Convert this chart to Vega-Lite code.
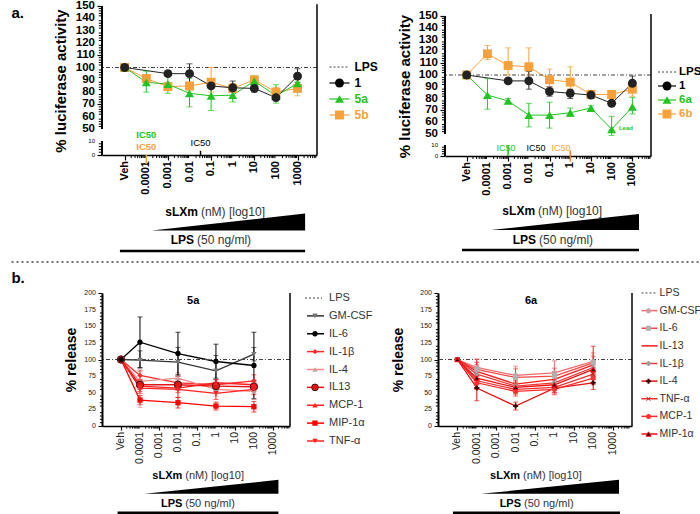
{
"$schema": "https://vega.github.io/schema/vega-lite/v6.json",
"padding": {"left": 10, "top": 0, "right": 0, "bottom": 0},
"config": {"font": "Liberation Sans", "view": {"stroke": null}, "background": "white",
  "axis": {"grid": false, "labelOverlap": false, "domainColor": "#000", "tickColor": "#000", "labelColor": "#000", "titleColor": "#000"}},
"resolve": {"scale": {"color": "independent", "fill": "independent", "shape": "independent", "stroke": "independent", "size": "independent"}},
"datasets": {
"xl": [{"t":-5,"l":"Veh"},{"t":-4,"l":"0.0001"},{"t":-3,"l":"0.001"},{"t":-2,"l":"0.01"},{"t":-1,"l":"0.1"},{"t":0,"l":"1"},{"t":1,"l":"10"},{"t":2,"l":"100"},{"t":3,"l":"1000"}],
"ylAu": [{"v":50},{"v":60},{"v":70},{"v":80},{"v":90},{"v":100},{"v":110},{"v":120},{"v":130},{"v":140},{"v":150}],
"ylAl": [{"v":0},{"v":10}],
"ylB": [{"v":0},{"v":25},{"v":50},{"v":75},{"v":100},{"v":125},{"v":150},{"v":175},{"v":200}],
"mx": [{"t":-4.69897},{"t":-4.52288},{"t":-4.39794},{"t":-4.30103},{"t":-4.22185},{"t":-4.1549},{"t":-4.09691},{"t":-4.04576},{"t":-3.69897},{"t":-3.52288},{"t":-3.39794},{"t":-3.30103},{"t":-3.22185},{"t":-3.1549},{"t":-3.09691},{"t":-3.04576},{"t":-2.69897},{"t":-2.52288},{"t":-2.39794},{"t":-2.30103},{"t":-2.22185},{"t":-2.1549},{"t":-2.09691},{"t":-2.04576},{"t":-1.69897},{"t":-1.52288},{"t":-1.39794},{"t":-1.30103},{"t":-1.22185},{"t":-1.1549},{"t":-1.09691},{"t":-1.04576},{"t":-0.69897},{"t":-0.52288},{"t":-0.39794},{"t":-0.30103},{"t":-0.22185},{"t":-0.1549},{"t":-0.09691},{"t":-0.04576},{"t":0.30103},{"t":0.47712},{"t":0.60206},{"t":0.69897},{"t":0.77815},{"t":0.8451},{"t":0.90309},{"t":0.95424},{"t":1.30103},{"t":1.47712},{"t":1.60206},{"t":1.69897},{"t":1.77815},{"t":1.8451},{"t":1.90309},{"t":1.95424},{"t":2.30103},{"t":2.47712},{"t":2.60206},{"t":2.69897},{"t":2.77815},{"t":2.8451},{"t":2.90309},{"t":2.95424},{"t":3.30103},{"t":3.47712},{"t":3.60206},{"t":3.69897},{"t":3.77815},{"t":3.8451}],
"myA": [{"v":2},{"v":4},{"v":6},{"v":8},{"v":52},{"v":54},{"v":56},{"v":58},{"v":62},{"v":64},{"v":66},{"v":68},{"v":72},{"v":74},{"v":76},{"v":78},{"v":82},{"v":84},{"v":86},{"v":88},{"v":92},{"v":94},{"v":96},{"v":98},{"v":102},{"v":104},{"v":106},{"v":108},{"v":112},{"v":114},{"v":116},{"v":118},{"v":122},{"v":124},{"v":126},{"v":128},{"v":132},{"v":134},{"v":136},{"v":138},{"v":142},{"v":144},{"v":146},{"v":148}],
"myB": [{"v":5},{"v":10},{"v":15},{"v":20},{"v":30},{"v":35},{"v":40},{"v":45},{"v":55},{"v":60},{"v":65},{"v":70},{"v":80},{"v":85},{"v":90},{"v":95},{"v":105},{"v":110},{"v":115},{"v":120},{"v":130},{"v":135},{"v":140},{"v":145},{"v":155},{"v":160},{"v":165},{"v":170},{"v":180},{"v":185},{"v":190},{"v":195}],
"aL": [
{"series":"5b","x":-5,"y":100,"lo":100,"hi":100},{"series":"5b","x":-4,"y":91,"lo":88,"hi":94},{"series":"5b","x":-3,"y":84.5,"lo":82,"hi":88},{"series":"5b","x":-2,"y":85,"lo":82,"hi":88},{"series":"5b","x":-1,"y":88,"lo":80,"hi":100},{"series":"5b","x":0,"y":83,"lo":81,"hi":87},{"series":"5b","x":1,"y":90,"lo":88,"hi":93},{"series":"5b","x":2,"y":80,"lo":76,"hi":84},{"series":"5b","x":3,"y":83,"lo":77,"hi":90},
{"series":"5a","x":-5,"y":100,"lo":100,"hi":100},{"series":"5a","x":-4,"y":88,"lo":80,"hi":97},{"series":"5a","x":-3,"y":86.5,"lo":79,"hi":93},{"series":"5a","x":-2,"y":79,"lo":68,"hi":91},{"series":"5a","x":-1,"y":77,"lo":65,"hi":90},{"series":"5a","x":0,"y":77.5,"lo":72,"hi":83},{"series":"5a","x":1,"y":89,"lo":85,"hi":93},{"series":"5a","x":2,"y":77,"lo":71,"hi":86},{"series":"5a","x":3,"y":87,"lo":84,"hi":93},
{"series":"1","x":-5,"y":100,"lo":100,"hi":100},{"series":"1","x":-3,"y":95,"lo":93,"hi":97},{"series":"1","x":-2,"y":95,"lo":86,"hi":103},{"series":"1","x":-1,"y":85,"lo":83,"hi":89},{"series":"1","x":0,"y":83.5,"lo":80,"hi":89},{"series":"1","x":1,"y":83,"lo":80,"hi":85},{"series":"1","x":2,"y":75.5,"lo":73,"hi":79},{"series":"1","x":3,"y":93,"lo":88,"hi":99}
],
"aR": [
{"series":"6b","x":-5,"y":100,"lo":100,"hi":100},{"series":"6b","x":-4,"y":118,"lo":113,"hi":125},{"series":"6b","x":-3,"y":108,"lo":100,"hi":123},{"series":"6b","x":-2,"y":107,"lo":100,"hi":123},{"series":"6b","x":-1,"y":96,"lo":90,"hi":105},{"series":"6b","x":0,"y":94,"lo":88,"hi":107},{"series":"6b","x":1,"y":83.5,"lo":80,"hi":87},{"series":"6b","x":2,"y":83.5,"lo":80,"hi":87},{"series":"6b","x":3,"y":88,"lo":82,"hi":95},
{"series":"6a","x":-5,"y":100,"lo":100,"hi":100},{"series":"6a","x":-4,"y":83,"lo":71,"hi":97},{"series":"6a","x":-3,"y":78,"lo":76,"hi":80},{"series":"6a","x":-2,"y":66,"lo":56,"hi":76},{"series":"6a","x":-1,"y":66,"lo":55,"hi":77},{"series":"6a","x":0,"y":68,"lo":65,"hi":72},{"series":"6a","x":1,"y":72,"lo":70,"hi":74},{"series":"6a","x":2,"y":54,"lo":45,"hi":65},{"series":"6a","x":3,"y":73,"lo":67,"hi":81},
{"series":"1","x":-5,"y":100,"lo":100,"hi":100},{"series":"1","x":-3,"y":95,"lo":93,"hi":97},{"series":"1","x":-2,"y":95,"lo":88,"hi":103},{"series":"1","x":-1,"y":86,"lo":82,"hi":90},{"series":"1","x":0,"y":84.5,"lo":80,"hi":88},{"series":"1","x":1,"y":83,"lo":81,"hi":85},{"series":"1","x":2,"y":76,"lo":74,"hi":78},{"series":"1","x":3,"y":93,"lo":88,"hi":99}
],
"bL": [
{"series":"IL-1β","x":-5,"y":100,"lo":99,"hi":101},{"series":"IL-1β","x":-4,"y":76,"lo":68,"hi":84},{"series":"IL-1β","x":-2,"y":65,"lo":55,"hi":75},{"series":"IL-1β","x":0,"y":62,"lo":55,"hi":70},{"series":"IL-1β","x":2,"y":68,"lo":60,"hi":77},
{"series":"IL-4","x":-5,"y":100,"lo":99,"hi":101},{"series":"IL-4","x":-4,"y":67,"lo":28,"hi":82},{"series":"IL-4","x":-2,"y":72,"lo":64,"hi":80},{"series":"IL-4","x":0,"y":55,"lo":45,"hi":68},{"series":"IL-4","x":2,"y":52,"lo":40,"hi":64},
{"series":"IL13","x":-5,"y":100,"lo":99,"hi":101},{"series":"IL13","x":-4,"y":62,"lo":55,"hi":70},{"series":"IL13","x":-2,"y":62,"lo":55,"hi":70},{"series":"IL13","x":0,"y":60,"lo":54,"hi":66},{"series":"IL13","x":2,"y":59,"lo":52,"hi":66},
{"series":"MCP-1","x":-5,"y":100,"lo":99,"hi":101},{"series":"MCP-1","x":-4,"y":60,"lo":52,"hi":68},{"series":"MCP-1","x":-2,"y":57,"lo":50,"hi":64},{"series":"MCP-1","x":0,"y":65,"lo":60,"hi":70},{"series":"MCP-1","x":2,"y":62,"lo":55,"hi":69},
{"series":"MIP-1α","x":-5,"y":100,"lo":99,"hi":101},{"series":"MIP-1α","x":-4,"y":39,"lo":32,"hi":46},{"series":"MIP-1α","x":-2,"y":35,"lo":27,"hi":43},{"series":"MIP-1α","x":0,"y":30,"lo":24,"hi":36},{"series":"MIP-1α","x":2,"y":29,"lo":21,"hi":37},
{"series":"TNF-α","x":-5,"y":100,"lo":99,"hi":101},{"series":"TNF-α","x":-4,"y":57,"lo":49,"hi":65},{"series":"TNF-α","x":-2,"y":55,"lo":43,"hi":64},{"series":"TNF-α","x":0,"y":49,"lo":40,"hi":58},{"series":"TNF-α","x":2,"y":55,"lo":47,"hi":63},
{"series":"GM-CSF","x":-5,"y":100,"lo":99,"hi":101},{"series":"GM-CSF","x":-4,"y":99,"lo":87,"hi":113},{"series":"GM-CSF","x":-2,"y":96,"lo":75,"hi":118},{"series":"GM-CSF","x":0,"y":83,"lo":64,"hi":106},{"series":"GM-CSF","x":2,"y":108,"lo":98,"hi":118},
{"series":"IL-6","x":-5,"y":100,"lo":99,"hi":101},{"series":"IL-6","x":-4,"y":126,"lo":88,"hi":164},{"series":"IL-6","x":-2,"y":109,"lo":77,"hi":141},{"series":"IL-6","x":0,"y":97,"lo":72,"hi":123},{"series":"IL-6","x":2,"y":91,"lo":41,"hi":141}
],
"bR": [
{"series":"GM-CSF","x":-5,"y":100,"lo":98,"hi":102},{"series":"GM-CSF","x":-4,"y":88,"lo":75,"hi":101},{"series":"GM-CSF","x":-2,"y":76,"lo":62,"hi":90},{"series":"GM-CSF","x":0,"y":80,"lo":62,"hi":98},{"series":"GM-CSF","x":2,"y":97,"lo":85,"hi":110},
{"series":"IL-6","x":-5,"y":100,"lo":98,"hi":102},{"series":"IL-6","x":-4,"y":85,"lo":70,"hi":100},{"series":"IL-6","x":-2,"y":73,"lo":60,"hi":86},{"series":"IL-6","x":0,"y":75,"lo":63,"hi":87},{"series":"IL-6","x":2,"y":95,"lo":80,"hi":105},
{"series":"IL-13","x":-5,"y":100,"lo":98,"hi":102},{"series":"IL-13","x":-4,"y":82,"lo":68,"hi":96},{"series":"IL-13","x":-2,"y":63,"lo":50,"hi":76},{"series":"IL-13","x":0,"y":70,"lo":58,"hi":82},{"series":"IL-13","x":2,"y":92,"lo":75,"hi":120},
{"series":"IL-1β","x":-5,"y":100,"lo":98,"hi":102},{"series":"IL-1β","x":-4,"y":78,"lo":64,"hi":92},{"series":"IL-1β","x":-2,"y":60,"lo":52,"hi":68},{"series":"IL-1β","x":0,"y":65,"lo":55,"hi":75},{"series":"IL-1β","x":2,"y":88,"lo":78,"hi":98},
{"series":"IL-4","x":-5,"y":100,"lo":98,"hi":102},{"series":"IL-4","x":-4,"y":57,"lo":38,"hi":76},{"series":"IL-4","x":-2,"y":30,"lo":24,"hi":36},{"series":"IL-4","x":0,"y":57,"lo":50,"hi":64},{"series":"IL-4","x":2,"y":65,"lo":55,"hi":75},
{"series":"TNF-α","x":-5,"y":100,"lo":98,"hi":102},{"series":"TNF-α","x":-4,"y":68,"lo":58,"hi":78},{"series":"TNF-α","x":-2,"y":55,"lo":48,"hi":62},{"series":"TNF-α","x":0,"y":58,"lo":50,"hi":66},{"series":"TNF-α","x":2,"y":78,"lo":70,"hi":86},
{"series":"MCP-1","x":-5,"y":100,"lo":98,"hi":102},{"series":"MCP-1","x":-4,"y":65,"lo":55,"hi":75},{"series":"MCP-1","x":-2,"y":52,"lo":45,"hi":59},{"series":"MCP-1","x":0,"y":55,"lo":47,"hi":63},{"series":"MCP-1","x":2,"y":72,"lo":62,"hi":82},
{"series":"MIP-1α","x":-5,"y":100,"lo":98,"hi":102},{"series":"MIP-1α","x":-4,"y":72,"lo":62,"hi":82},{"series":"MIP-1α","x":-2,"y":58,"lo":50,"hi":66},{"series":"MIP-1α","x":0,"y":62,"lo":55,"hi":69},{"series":"MIP-1α","x":2,"y":85,"lo":78,"hi":92}
]
},
"spacing": 8,
"columns": 1,
"concat": [
{"spacing": 5, "resolve": {"scale": {"color": "independent", "fill": "independent", "shape": "independent", "stroke": "independent", "size": "independent"}}, "hconcat": [
 {"width": 215, "height": 149, "layer": [
  {"data": {"name": "aL"}, "mark": {"type": "line", "strokeWidth": 1},
   "encoding": {
    "x": {"field": "x", "type": "quantitative", "scale": {"domain": [-6.05, 3.9], "nice": false, "zero": false},
      "axis": {"values": [-5,-4,-3,-2,-1,0,1,2,3], "labels": false, "tickSize": 5, "tickWidth": 1.2, "domainWidth": 1.5, "title": null}},
    "y": {"field": "y", "type": "quantitative", "scale": {"domain": [0,10,50,150], "range": [149,135,123,0], "nice": false, "zero": false},
      "axis": {"values": [0,10,50,60,70,80,90,100,110,120,130,140,150], "labels": false, "tickSize": 5, "tickWidth": 1.2, "domain": false,
       "title": "% luciferase activity", "titleFontSize": 15, "titleFontWeight": "bold", "titlePadding": 28}},
    "color": {"field": "series", "type": "nominal", "scale": {"domain": ["1","5a","5b"], "range": ["#222222","#22c322","#f8a13a"]}, "legend": null}}},
  {"data": {"values": [{}]}, "mark": {"type": "rule", "color": "#444", "strokeWidth": 1, "strokeDash": [4,2,1,2]}, "encoding": {"y": {"datum": 100, "type": "quantitative"}}},
  {"data": {"name": "mx"}, "mark": {"type": "rule", "color": "#000", "strokeWidth": 1}, "encoding": {"x": {"field": "t", "type": "quantitative"}, "y": {"datum": 0}, "y2": {"datum": -2.2}}},
  {"data": {"name": "myA"}, "mark": {"type": "rule", "color": "#000", "strokeWidth": 1}, "encoding": {"y": {"field": "v", "type": "quantitative"}, "x": {"datum": -6.05}, "x2": {"datum": -6.2}}},
  {"data": {"name": "xl"}, "mark": {"type": "text", "angle": 270, "align": "right", "baseline": "middle", "fontSize": 11, "fontWeight": "bold", "color": "#000"}, "encoding": {"x": {"field": "t", "type": "quantitative"}, "y": {"datum": -4.3}, "text": {"field": "l"}}},
  {"data": {"name": "ylAu"}, "mark": {"type": "text", "align": "right", "baseline": "middle", "fontSize": 11.5, "fontWeight": "bold", "color": "#000", "dx": -7}, "encoding": {"x": {"datum": -6.05}, "y": {"field": "v", "type": "quantitative"}, "text": {"field": "v", "type": "quantitative"}}},
  {"data": {"name": "ylAl"}, "mark": {"type": "text", "align": "right", "baseline": "middle", "fontSize": 6, "color": "#000", "dx": -7}, "encoding": {"x": {"datum": -6.05}, "y": {"field": "v", "type": "quantitative"}, "text": {"field": "v", "type": "quantitative"}}},
  {"data": {"name": "aL"}, "mark": {"type": "errorbar", "ticks": {"size": 6}, "orient": "vertical"}, "encoding": {"x": {"field": "x", "type": "quantitative", "axis": {"title": null}}, "y": {"field": "lo", "type": "quantitative", "axis": {"title": "% luciferase activity"}}, "y2": {"field": "hi"}, "color": {"field": "series", "type": "nominal", "legend": null}}},
  {"data": {"name": "aL"}, "mark": {"type": "point", "filled": true, "size": 80, "opacity": 1},
   "encoding": {"x": {"field": "x", "type": "quantitative"}, "y": {"field": "y", "type": "quantitative"}, "color": {"field": "series", "type": "nominal", "legend": null},
    "shape": {"field": "series", "type": "nominal", "scale": {"domain": ["1","5a","5b"], "range": ["circle","triangle-up","square"]}, "legend": null}}},
  {"data": {"values": [{}]}, "mark": {"type": "rule", "color": "#000", "strokeWidth": 2}, "encoding": {"x": {"datum": -6.05}, "y": {"datum": 50}, "y2": {"datum": 150}}},
  {"data": {"values": [{}]}, "mark": {"type": "rule", "color": "#000", "strokeWidth": 2}, "encoding": {"x": {"datum": -6.05}, "y": {"datum": 0}, "y2": {"datum": 10}}},
  {"data": {"values": [{}]}, "mark": {"type": "rule", "color": "#000", "strokeWidth": 1.5}, "encoding": {"x": {"datum": 3.9}, "y": {"datum": 0}, "y2": {"datum": 151.5}}},
  {"data": {"values": [{}]}, "mark": {"type": "rule", "color": "#f8a13a", "strokeWidth": 1.5}, "encoding": {"x": {"datum": -4}, "y": {"datum": 0}, "y2": {"datum": -6.4}}},
  {"data": {"values": [{}]}, "mark": {"type": "rule", "color": "#000", "strokeWidth": 1.5}, "encoding": {"x": {"datum": -1.49}, "y": {"datum": 0}, "y2": {"datum": 3}}},
  {"data": {"values": [{}]}, "mark": {"type": "text", "text": "IC50", "color": "#22c322", "fontSize": 9.5, "fontWeight": "bold"}, "encoding": {"x": {"datum": -4}, "y": {"datum": 30}}},
  {"data": {"values": [{}]}, "mark": {"type": "text", "text": "IC50", "color": "#f8a13a", "fontSize": 9.5, "fontWeight": "bold"}, "encoding": {"x": {"datum": -4}, "y": {"datum": 5.7}}},
  {"data": {"values": [{}]}, "mark": {"type": "text", "text": "IC50", "color": "#000", "fontSize": 9.5}, "encoding": {"x": {"datum": -1.49}, "y": {"datum": 8.6}}},
  {"data": {"values": [{}]}, "mark": {"type": "text", "text": "sLXm", "color": "#000", "fontSize": 12, "fontWeight": "bold", "align": "right"}, "encoding": {"x": {"datum": -1.61}, "y": {"datum": -40.7}}},
  {"data": {"values": [{}]}, "mark": {"type": "text", "text": "(nM) [log10]", "color": "#333", "fontSize": 12, "align": "left", "dx": 3}, "encoding": {"x": {"datum": -1.61}, "y": {"datum": -40.7}}},
  {"data": {"values": [{"c": -3.74, "h": -53.9}, {"c": 3.35, "h": -41.8}]}, "mark": {"type": "area", "color": "#000"}, "encoding": {"x": {"field": "c", "type": "quantitative"}, "y": {"field": "h", "type": "quantitative"}, "y2": {"datum": -53.9}}},
  {"data": {"values": [{}]}, "mark": {"type": "text", "text": "LPS", "color": "#000", "fontSize": 12, "fontWeight": "bold", "align": "right"}, "encoding": {"x": {"datum": -1.79}, "y": {"datum": -60.7}}},
  {"data": {"values": [{}]}, "mark": {"type": "text", "text": "(50 ng/ml)", "color": "#333", "fontSize": 12, "align": "left", "dx": 3}, "encoding": {"x": {"datum": -1.79}, "y": {"datum": -60.7}}},
  {"data": {"values": [{}]}, "mark": {"type": "rule", "color": "#000", "strokeWidth": 2.5}, "encoding": {"x": {"datum": -5.22}, "x2": {"datum": 3.35}, "y": {"datum": -68.6}}},
  {"data": {"values": [{}]}, "mark": {"type": "text", "text": "a.", "color": "#000", "fontSize": 15, "fontWeight": "bold", "align": "left"}, "encoding": {"x": {"datum": -10.24}, "y": {"datum": 144.3}}}
 ]},
 {"width": 69, "height": 149, "data": {"values": [{"s":"LPS"},{"s":"1"},{"s":"5a"},{"s":"5b"}]}, "layer": [
  {"transform": [{"filter": "datum.s === 'LPS'"}], "mark": {"type": "rule", "strokeDash": [2,2], "color": "#444", "strokeWidth": 1},
   "encoding": {"x": {"datum": 0.94, "type": "quantitative", "scale": {"domain": [0,10]}, "axis": null}, "x2": {"datum": 3.84}, "y": {"field": "s", "type": "nominal", "scale": {"type": "point", "padding": 0, "domain": ["LPS","1","5a","5b"], "range": [61,109]}, "axis": null}}},
  {"transform": [{"filter": "datum.s !== 'LPS'"}], "mark": {"type": "rule", "strokeWidth": 1.2},
   "encoding": {"x": {"datum": 0.94, "axis": null}, "x2": {"datum": 3.84}, "y": {"field": "s", "type": "nominal", "axis": null}, "color": {"field": "s", "type": "nominal", "scale": {"domain": ["LPS","1","5a","5b"], "range": ["#000000","#000000","#22c322","#f8a13a"]}, "legend": null}}},
  {"transform": [{"filter": "datum.s !== 'LPS'"}], "mark": {"type": "point", "filled": true, "size": 80, "opacity": 1},
   "encoding": {"x": {"datum": 2.39, "axis": null}, "y": {"field": "s", "type": "nominal", "axis": null}, "color": {"field": "s", "type": "nominal", "legend": null}, "shape": {"field": "s", "type": "nominal", "scale": {"domain": ["1","5a","5b"], "range": ["circle","triangle-up","square"]}, "legend": null}}},
  {"mark": {"type": "text", "align": "left", "baseline": "middle", "fontSize": 12, "fontWeight": "bold"},
   "encoding": {"x": {"datum": 4.57, "axis": null}, "y": {"field": "s", "type": "nominal", "axis": null}, "text": {"field": "s"}, "color": {"field": "s", "type": "nominal", "legend": null}}}
 ]},
 {"width": 206, "height": 150, "layer": [
  {"data": {"name": "aR"}, "mark": {"type": "line", "strokeWidth": 1},
   "encoding": {
    "x": {"field": "x", "type": "quantitative", "scale": {"domain": [-6.05, 3.9], "nice": false, "zero": false},
      "axis": {"values": [-5,-4,-3,-2,-1,0,1,2,3], "labels": false, "tickSize": 5, "tickWidth": 1.2, "domainWidth": 1.5, "title": null}},
    "y": {"field": "y", "type": "quantitative", "scale": {"domain": [0,10,50,150], "range": [150,139,128,10], "nice": false, "zero": false},
      "axis": {"values": [0,10,50,60,70,80,90,100,110,120,130,140,150], "labels": false, "tickSize": 5, "tickWidth": 1.2, "domain": false,
       "title": "% luciferase activity", "titleFontSize": 15, "titleFontWeight": "bold", "titlePadding": 27}},
    "color": {"field": "series", "type": "nominal", "scale": {"domain": ["1","6a","6b"], "range": ["#222222","#22c322","#f8a13a"]}, "legend": null}}},
  {"data": {"values": [{}]}, "mark": {"type": "rule", "color": "#444", "strokeWidth": 1, "strokeDash": [4,2,1,2]}, "encoding": {"y": {"datum": 100, "type": "quantitative"}}},
  {"data": {"name": "mx"}, "mark": {"type": "rule", "color": "#000", "strokeWidth": 1}, "encoding": {"x": {"field": "t", "type": "quantitative"}, "y": {"datum": 0}, "y2": {"datum": -2.7}}},
  {"data": {"name": "myA"}, "mark": {"type": "rule", "color": "#000", "strokeWidth": 1}, "encoding": {"y": {"field": "v", "type": "quantitative"}, "x": {"datum": -6.05}, "x2": {"datum": -6.2}}},
  {"data": {"name": "xl"}, "mark": {"type": "text", "angle": 270, "align": "right", "baseline": "middle", "fontSize": 11, "fontWeight": "bold", "color": "#000"}, "encoding": {"x": {"field": "t", "type": "quantitative"}, "y": {"datum": -5.5}, "text": {"field": "l"}}},
  {"data": {"name": "ylAu"}, "mark": {"type": "text", "align": "right", "baseline": "middle", "fontSize": 11.5, "fontWeight": "bold", "color": "#000", "dx": -7}, "encoding": {"x": {"datum": -6.05}, "y": {"field": "v", "type": "quantitative"}, "text": {"field": "v", "type": "quantitative"}}},
  {"data": {"name": "ylAl"}, "mark": {"type": "text", "align": "right", "baseline": "middle", "fontSize": 6, "color": "#000", "dx": -7}, "encoding": {"x": {"datum": -6.05}, "y": {"field": "v", "type": "quantitative"}, "text": {"field": "v", "type": "quantitative"}}},
  {"data": {"name": "aR"}, "mark": {"type": "errorbar", "ticks": {"size": 6}, "orient": "vertical"}, "encoding": {"x": {"field": "x", "type": "quantitative", "axis": {"title": null}}, "y": {"field": "lo", "type": "quantitative", "axis": {"title": "% luciferase activity"}}, "y2": {"field": "hi"}, "color": {"field": "series", "type": "nominal", "legend": null}}},
  {"data": {"name": "aR"}, "mark": {"type": "point", "filled": true, "size": 80, "opacity": 1},
   "encoding": {"x": {"field": "x", "type": "quantitative"}, "y": {"field": "y", "type": "quantitative"}, "color": {"field": "series", "type": "nominal", "legend": null},
    "shape": {"field": "series", "type": "nominal", "scale": {"domain": ["1","6a","6b"], "range": ["circle","triangle-up","square"]}, "legend": null}}},
  {"data": {"values": [{}]}, "mark": {"type": "rule", "color": "#000", "strokeWidth": 2}, "encoding": {"x": {"datum": -6.05}, "y": {"datum": 50}, "y2": {"datum": 150}}},
  {"data": {"values": [{}]}, "mark": {"type": "rule", "color": "#000", "strokeWidth": 2}, "encoding": {"x": {"datum": -6.05}, "y": {"datum": 0}, "y2": {"datum": 10}}},
  {"data": {"values": [{}]}, "mark": {"type": "rule", "color": "#000", "strokeWidth": 1.5}, "encoding": {"x": {"datum": 3.9}, "y": {"datum": 0}, "y2": {"datum": 151.7}}},
  {"data": {"values": [{}]}, "mark": {"type": "rule", "color": "#22c322", "strokeWidth": 1.5}, "encoding": {"x": {"datum": -3}, "y": {"datum": 0}, "y2": {"datum": 10}}},
  {"data": {"values": [{}]}, "mark": {"type": "rule", "color": "#f07a3a", "strokeWidth": 1.5}, "encoding": {"x": {"datum": 0}, "y": {"datum": -5}, "y2": {"datum": 5}}},
  {"data": {"values": [{}]}, "mark": {"type": "text", "text": "IC50", "color": "#22c322", "fontSize": 9}, "encoding": {"x": {"datum": -3.1}, "y": {"datum": 7.3}}},
  {"data": {"values": [{}]}, "mark": {"type": "text", "text": "IC50", "color": "#000", "fontSize": 9}, "encoding": {"x": {"datum": -1.65}, "y": {"datum": 7.3}}},
  {"data": {"values": [{}]}, "mark": {"type": "text", "text": "IC50", "color": "#f8a13a", "fontSize": 9}, "encoding": {"x": {"datum": -0.45}, "y": {"datum": 7.3}}},
  {"data": {"values": [{}]}, "mark": {"type": "text", "text": "Lead", "color": "#22c322", "fontSize": 6, "fontWeight": "bold"}, "encoding": {"x": {"datum": 2.69}, "y": {"datum": 55}}},
  {"data": {"values": [{}]}, "mark": {"type": "text", "text": "sLXm", "color": "#000", "fontSize": 12, "fontWeight": "bold", "align": "right"}, "encoding": {"x": {"datum": -1.7}, "y": {"datum": -50}}},
  {"data": {"values": [{}]}, "mark": {"type": "text", "text": "(nM) [log10]", "color": "#333", "fontSize": 12, "align": "left", "dx": 3}, "encoding": {"x": {"datum": -1.7}, "y": {"datum": -50}}},
  {"data": {"values": [{"c": -3.83, "h": -67.3}, {"c": 3.32, "h": -52.7}]}, "mark": {"type": "area", "color": "#000"}, "encoding": {"x": {"field": "c", "type": "quantitative"}, "y": {"field": "h", "type": "quantitative"}, "y2": {"datum": -67.3}}},
  {"data": {"values": [{}]}, "mark": {"type": "text", "text": "LPS", "color": "#000", "fontSize": 12, "fontWeight": "bold", "align": "right"}, "encoding": {"x": {"datum": -1.65}, "y": {"datum": -76.4}}},
  {"data": {"values": [{}]}, "mark": {"type": "text", "text": "(50 ng/ml)", "color": "#333", "fontSize": 12, "align": "left", "dx": 3}, "encoding": {"x": {"datum": -1.65}, "y": {"datum": -76.4}}},
  {"data": {"values": [{}]}, "mark": {"type": "rule", "color": "#000", "strokeWidth": 2.5}, "encoding": {"x": {"datum": -5.23}, "x2": {"datum": 3.32}, "y": {"datum": -85.5}}}
 ]},
 {"width": 50, "height": 150, "data": {"values": [{"s":"LPS"},{"s":"1"},{"s":"6a"},{"s":"6b"}]}, "layer": [
  {"transform": [{"filter": "datum.s === 'LPS'"}], "mark": {"type": "rule", "strokeDash": [2,2], "color": "#444", "strokeWidth": 1},
   "encoding": {"x": {"datum": 0, "type": "quantitative", "scale": {"domain": [0,10]}, "axis": null}, "x2": {"datum": 3.6}, "y": {"field": "s", "type": "nominal", "scale": {"type": "point", "padding": 0, "domain": ["LPS","1","6a","6b"], "range": [66,108]}, "axis": null}}},
  {"transform": [{"filter": "datum.s !== 'LPS'"}], "mark": {"type": "rule", "strokeWidth": 1.2},
   "encoding": {"x": {"datum": 0, "axis": null}, "x2": {"datum": 3.6}, "y": {"field": "s", "type": "nominal", "axis": null}, "color": {"field": "s", "type": "nominal", "scale": {"domain": ["LPS","1","6a","6b"], "range": ["#000000","#000000","#22c322","#f8a13a"]}, "legend": null}}},
  {"transform": [{"filter": "datum.s !== 'LPS'"}], "mark": {"type": "point", "filled": true, "size": 80, "opacity": 1},
   "encoding": {"x": {"datum": 1.8, "axis": null}, "y": {"field": "s", "type": "nominal", "axis": null}, "color": {"field": "s", "type": "nominal", "legend": null}, "shape": {"field": "s", "type": "nominal", "scale": {"domain": ["1","6a","6b"], "range": ["circle","triangle-up","square"]}, "legend": null}}},
  {"mark": {"type": "text", "align": "left", "baseline": "middle", "fontSize": 11.5, "fontWeight": "bold"},
   "encoding": {"x": {"datum": 4.2, "axis": null}, "y": {"field": "s", "type": "nominal", "axis": null}, "text": {"field": "s"}, "color": {"field": "s", "type": "nominal", "legend": null}}}
 ]}
]},
{"width": 600, "height": 1, "data": {"values": [{}]}, "mark": {"type": "rule", "strokeDash": [2,3], "color": "#444", "strokeWidth": 1.3}, "encoding": {"x": {"datum": -1.508, "type": "quantitative", "scale": {"domain": [0,10]}, "axis": null}, "x2": {"datum": 10}, "y": {"datum": 0, "type": "quantitative", "scale": {"domain": [0,1]}, "axis": null}}},
{"spacing": 5, "resolve": {"scale": {"color": "independent", "fill": "independent", "shape": "independent", "stroke": "independent", "size": "independent"}}, "hconcat": [
 {"width": 188, "height": 133, "layer": [
  {"data": {"name": "bL"}, "mark": {"type": "line", "strokeWidth": 1.3},
   "encoding": {
    "x": {"field": "x", "type": "quantitative", "scale": {"domain": [-6, 3.9], "nice": false, "zero": false},
      "axis": {"values": [-5,-4,-3,-2,-1,0,1,2,3], "labels": false, "tickSize": 4, "tickWidth": 1.2, "domainWidth": 1.5, "title": null}},
    "y": {"field": "y", "type": "quantitative", "scale": {"domain": [0, 200], "nice": false, "zero": false},
      "axis": {"values": [0,25,50,75,100,125,150,175,200], "labels": false, "tickSize": 4, "tickWidth": 1, "domainWidth": 2,
       "title": "% release", "titleFontSize": 14, "titleFontWeight": "bold", "titlePadding": 19}},
    "color": {"field": "series", "type": "nominal", "scale": {"domain": ["GM-CSF","IL-6","IL-1β","IL-4","IL13","MCP-1","MIP-1α","TNF-α"], "range": ["#333333","#000000","#ff2a2a","#f28a8a","#e01515","#ff1f1f","#ff0000","#ff2020"]}, "legend": null}}},
  {"data": {"values": [{}]}, "mark": {"type": "rule", "color": "#444", "strokeWidth": 1, "strokeDash": [4,2,1,2]}, "encoding": {"y": {"datum": 100, "type": "quantitative"}}},
  {"data": {"name": "mx"}, "mark": {"type": "rule", "color": "#000", "strokeWidth": 1}, "encoding": {"x": {"field": "t", "type": "quantitative"}, "y": {"datum": 0}, "y2": {"datum": -3.8}}},
  {"data": {"name": "myB"}, "mark": {"type": "rule", "color": "#000", "strokeWidth": 1}, "encoding": {"y": {"field": "v", "type": "quantitative"}, "x": {"datum": -6}, "x2": {"datum": -6.11}}},
  {"data": {"name": "xl"}, "mark": {"type": "text", "angle": 270, "align": "right", "baseline": "middle", "fontSize": 10.5, "color": "#222"}, "encoding": {"x": {"field": "t", "type": "quantitative"}, "y": {"datum": -9}, "text": {"field": "l"}}},
  {"data": {"name": "ylB"}, "mark": {"type": "text", "align": "right", "baseline": "middle", "fontSize": 7, "color": "#222", "dx": -6}, "encoding": {"x": {"datum": -6}, "y": {"field": "v", "type": "quantitative"}, "text": {"field": "v", "type": "quantitative"}}},
  {"data": {"name": "bL"}, "mark": {"type": "errorbar", "ticks": {"size": 5}, "orient": "vertical"}, "encoding": {"x": {"field": "x", "type": "quantitative", "axis": {"title": null}}, "y": {"field": "lo", "type": "quantitative", "axis": {"title": "% release"}}, "y2": {"field": "hi"}, "color": {"field": "series", "type": "nominal", "legend": null}}},
  {"data": {"name": "bL"}, "mark": {"type": "point", "filled": true, "opacity": 1, "strokeWidth": 1},
   "encoding": {"x": {"field": "x", "type": "quantitative"}, "y": {"field": "y", "type": "quantitative"},
    "fill": {"field": "series", "type": "nominal", "scale": {"domain": ["GM-CSF","IL-6","IL-1β","IL-4","IL13","MCP-1","MIP-1α","TNF-α"], "range": ["#777777","#000000","#ff2a2a","#c9a0a0","#e01515","#ff1f1f","#ff0000","#ff2020"]}, "legend": null},
    "shape": {"field": "series", "type": "nominal", "scale": {"domain": ["GM-CSF","IL-6","IL-1β","IL-4","IL13","MCP-1","MIP-1α","TNF-α"], "range": ["triangle-down","circle","diamond","triangle-up","circle","triangle-up","square","triangle-down"]}, "legend": null},
    "stroke": {"condition": {"test": "datum.series === 'IL13'", "value": "#401010"}, "value": "transparent"},
    "size": {"condition": {"test": "datum.series === 'IL13'", "value": 55}, "value": 28}}},
  {"data": {"values": [{}]}, "mark": {"type": "rule", "color": "#000", "strokeWidth": 1.5}, "encoding": {"x": {"datum": 3.9}, "y": {"datum": 0}, "y2": {"datum": 200}}},
  {"data": {"values": [{}]}, "mark": {"type": "text", "text": "5a", "color": "#000", "fontSize": 11, "fontWeight": "bold"}, "encoding": {"x": {"datum": -1.2}, "y": {"datum": 188}}},
  {"data": {"values": [{}]}, "mark": {"type": "text", "text": "sLXm", "color": "#000", "fontSize": 11, "fontWeight": "bold", "align": "right"}, "encoding": {"x": {"datum": -1.77}, "y": {"datum": -75.2}}},
  {"data": {"values": [{}]}, "mark": {"type": "text", "text": "(nM) [log10]", "color": "#333", "fontSize": 11, "align": "left", "dx": 3}, "encoding": {"x": {"datum": -1.77}, "y": {"datum": -75.2}}},
  {"data": {"values": [{"c": -3.76, "h": -102}, {"c": 3.29, "h": -81}]}, "mark": {"type": "area", "color": "#000"}, "encoding": {"x": {"field": "c", "type": "quantitative"}, "y": {"field": "h", "type": "quantitative"}, "y2": {"datum": -102}}},
  {"data": {"values": [{}]}, "mark": {"type": "text", "text": "LPS", "color": "#000", "fontSize": 11, "fontWeight": "bold", "align": "right"}, "encoding": {"x": {"datum": -1.77}, "y": {"datum": -117}}},
  {"data": {"values": [{}]}, "mark": {"type": "text", "text": "(50 ng/ml)", "color": "#333", "fontSize": 11, "align": "left", "dx": 3}, "encoding": {"x": {"datum": -1.77}, "y": {"datum": -117}}},
  {"data": {"values": [{}]}, "mark": {"type": "rule", "color": "#000", "strokeWidth": 3}, "encoding": {"x": {"datum": -5.18}, "x2": {"datum": 3.29}, "y": {"datum": -131}}},
  {"data": {"values": [{}]}, "mark": {"type": "text", "text": "b.", "color": "#000", "fontSize": 15, "fontWeight": "bold", "align": "left"}, "encoding": {"x": {"datum": -10.77}, "y": {"datum": 222}}}
 ]},
 {"width": 90, "height": 133, "data": {"values": [{"s":"LPS"},{"s":"GM-CSF"},{"s":"IL-6"},{"s":"IL-1β"},{"s":"IL-4"},{"s":"IL13"},{"s":"MCP-1"},{"s":"MIP-1α"},{"s":"TNF-α"}]}, "layer": [
  {"transform": [{"filter": "datum.s === 'LPS'"}], "mark": {"type": "rule", "strokeDash": [2,2], "color": "#444", "strokeWidth": 1},
   "encoding": {"x": {"datum": 1.0, "type": "quantitative", "scale": {"domain": [0,10]}, "axis": null}, "x2": {"datum": 2.89}, "y": {"field": "s", "type": "nominal", "scale": {"type": "point", "padding": 0, "domain": ["LPS","GM-CSF","IL-6","IL-1β","IL-4","IL13","MCP-1","MIP-1α","TNF-α"], "range": [5,148]}, "axis": null}}},
  {"transform": [{"filter": "datum.s !== 'LPS'"}], "mark": {"type": "rule", "strokeWidth": 1.5},
   "encoding": {"x": {"datum": 1.22, "axis": null}, "x2": {"datum": 3.11}, "y": {"field": "s", "type": "nominal", "axis": null}, "color": {"field": "s", "type": "nominal", "scale": {"domain": ["GM-CSF","IL-6","IL-1β","IL-4","IL13","MCP-1","MIP-1α","TNF-α"], "range": ["#333333","#000000","#ff2a2a","#f28a8a","#e01515","#ff1f1f","#ff0000","#ff2020"]}, "legend": null}}},
  {"transform": [{"filter": "datum.s !== 'LPS'"}], "mark": {"type": "point", "filled": true, "opacity": 1, "strokeWidth": 1},
   "encoding": {"x": {"datum": 2.11, "axis": null}, "y": {"field": "s", "type": "nominal", "axis": null},
    "fill": {"field": "s", "type": "nominal", "scale": {"domain": ["GM-CSF","IL-6","IL-1β","IL-4","IL13","MCP-1","MIP-1α","TNF-α"], "range": ["#777777","#000000","#ff2a2a","#c9a0a0","#e01515","#ff1f1f","#ff0000","#ff2020"]}, "legend": null},
    "shape": {"field": "s", "type": "nominal", "scale": {"domain": ["GM-CSF","IL-6","IL-1β","IL-4","IL13","MCP-1","MIP-1α","TNF-α"], "range": ["triangle-down","circle","diamond","triangle-up","circle","triangle-up","square","triangle-down"]}, "legend": null},
    "stroke": {"condition": {"test": "datum.s === 'IL13'", "value": "#401010"}, "value": "transparent"},
    "size": {"condition": {"test": "datum.s === 'IL13'", "value": 45}, "value": 28}}},
  {"mark": {"type": "text", "align": "left", "baseline": "middle", "fontSize": 11, "color": "#333"},
   "encoding": {"x": {"datum": 3.67, "axis": null}, "y": {"field": "s", "type": "nominal", "axis": null}, "text": {"field": "s"}}}
 ]},
 {"width": 194, "height": 133, "layer": [
  {"data": {"name": "bR"}, "mark": {"type": "line", "strokeWidth": 1.3},
   "encoding": {
    "x": {"field": "x", "type": "quantitative", "scale": {"domain": [-6, 4], "nice": false, "zero": false},
      "axis": {"values": [-5,-4,-3,-2,-1,0,1,2,3], "labels": false, "tickSize": 4, "tickWidth": 1.2, "domainWidth": 1.5, "title": null}},
    "y": {"field": "y", "type": "quantitative", "scale": {"domain": [0, 200], "nice": false, "zero": false},
      "axis": {"values": [0,25,50,75,100,125,150,175,200], "labels": false, "tickSize": 4, "tickWidth": 1, "domainWidth": 2,
       "title": "% release", "titleFontSize": 14, "titleFontWeight": "bold", "titlePadding": 28}},
    "color": {"field": "series", "type": "nominal", "scale": {"domain": ["GM-CSF","IL-6","IL-13","IL-1β","IL-4","TNF-α","MCP-1","MIP-1α"], "range": ["#f26a6a","#f04848","#ff1a1a","#f03a3a","#e81010","#f03030","#ff2a2a","#ee1111"]}, "legend": null}}},
  {"data": {"values": [{}]}, "mark": {"type": "rule", "color": "#444", "strokeWidth": 1, "strokeDash": [4,2,1,2]}, "encoding": {"y": {"datum": 100, "type": "quantitative"}}},
  {"data": {"name": "mx"}, "mark": {"type": "rule", "color": "#000", "strokeWidth": 1}, "encoding": {"x": {"field": "t", "type": "quantitative"}, "y": {"datum": 0}, "y2": {"datum": -3.8}}},
  {"data": {"name": "myB"}, "mark": {"type": "rule", "color": "#000", "strokeWidth": 1}, "encoding": {"y": {"field": "v", "type": "quantitative"}, "x": {"datum": -6}, "x2": {"datum": -6.11}}},
  {"data": {"name": "xl"}, "mark": {"type": "text", "angle": 270, "align": "right", "baseline": "middle", "fontSize": 10.5, "color": "#222"}, "encoding": {"x": {"field": "t", "type": "quantitative"}, "y": {"datum": -9}, "text": {"field": "l"}}},
  {"data": {"name": "ylB"}, "mark": {"type": "text", "align": "right", "baseline": "middle", "fontSize": 7, "color": "#222", "dx": -6}, "encoding": {"x": {"datum": -6}, "y": {"field": "v", "type": "quantitative"}, "text": {"field": "v", "type": "quantitative"}}},
  {"data": {"name": "bR"}, "mark": {"type": "errorbar", "ticks": {"size": 5}, "orient": "vertical"}, "encoding": {"x": {"field": "x", "type": "quantitative", "axis": {"title": null}}, "y": {"field": "lo", "type": "quantitative", "axis": {"title": "% release"}}, "y2": {"field": "hi"}, "color": {"field": "series", "type": "nominal", "legend": null}}},
  {"data": {"name": "bR"}, "mark": {"type": "point", "filled": true, "opacity": 1, "strokeWidth": 1},
   "encoding": {"x": {"field": "x", "type": "quantitative"}, "y": {"field": "y", "type": "quantitative"},
    "fill": {"field": "series", "type": "nominal", "scale": {"domain": ["GM-CSF","IL-6","IL-13","IL-1β","IL-4","TNF-α","MCP-1","MIP-1α"], "range": ["#c8a0a0","#b0b0b0","#ff1a1a","#9a9a9a","#400000","#f03030","#ff3030","#200000"]}, "legend": null},
    "shape": {"field": "series", "type": "nominal", "scale": {"domain": ["GM-CSF","IL-6","IL-13","IL-1β","IL-4","TNF-α","MCP-1","MIP-1α"], "range": ["circle","square","circle","cross","cross","M-0.8,-0.8L0.8,0.8M-0.8,0.8L0.8,-0.8","circle","triangle-up"]}, "legend": null},
    "stroke": {"condition": [{"test": "datum.series === 'TNF-α'", "value": "#c02020"}, {"test": "datum.series === 'MIP-1α'", "value": "#ff0000"}], "value": "transparent"},
    "size": {"condition": {"test": "datum.series === 'IL-13'", "value": 0}, "value": 25}}},
  {"data": {"values": [{}]}, "mark": {"type": "rule", "color": "#000", "strokeWidth": 1.5}, "encoding": {"x": {"datum": 4}, "y": {"datum": 0}, "y2": {"datum": 200}}},
  {"data": {"values": [{}]}, "mark": {"type": "text", "text": "6a", "color": "#000", "fontSize": 11, "fontWeight": "bold"}, "encoding": {"x": {"datum": -1.2}, "y": {"datum": 188}}},
  {"data": {"values": [{}]}, "mark": {"type": "text", "text": "sLXm", "color": "#000", "fontSize": 11, "fontWeight": "bold", "align": "right"}, "encoding": {"x": {"datum": -1.77}, "y": {"datum": -75.2}}},
  {"data": {"values": [{}]}, "mark": {"type": "text", "text": "(nM) [log10]", "color": "#333", "fontSize": 11, "align": "left", "dx": 3}, "encoding": {"x": {"datum": -1.77}, "y": {"datum": -75.2}}},
  {"data": {"values": [{"c": -3.78, "h": -102}, {"c": 3.33, "h": -81}]}, "mark": {"type": "area", "color": "#000"}, "encoding": {"x": {"field": "c", "type": "quantitative"}, "y": {"field": "h", "type": "quantitative"}, "y2": {"datum": -102}}},
  {"data": {"values": [{}]}, "mark": {"type": "text", "text": "LPS", "color": "#000", "fontSize": 11, "fontWeight": "bold", "align": "right"}, "encoding": {"x": {"datum": -1.72}, "y": {"datum": -117}}},
  {"data": {"values": [{}]}, "mark": {"type": "text", "text": "(50 ng/ml)", "color": "#333", "fontSize": 11, "align": "left", "dx": 3}, "encoding": {"x": {"datum": -1.72}, "y": {"datum": -117}}},
  {"data": {"values": [{}]}, "mark": {"type": "rule", "color": "#000", "strokeWidth": 3}, "encoding": {"x": {"datum": -5.23}, "x2": {"datum": 3.38}, "y": {"datum": -131}}}
 ]},
 {"width": 60, "height": 133, "data": {"values": [{"s":"LPS"},{"s":"GM-CSF"},{"s":"IL-6"},{"s":"IL-13"},{"s":"IL-1β"},{"s":"IL-4"},{"s":"TNF-α"},{"s":"MCP-1"},{"s":"MIP-1α"}]}, "layer": [
  {"transform": [{"filter": "datum.s === 'LPS'"}], "mark": {"type": "rule", "strokeDash": [2,2], "color": "#444", "strokeWidth": 1},
   "encoding": {"x": {"datum": 0.58, "type": "quantitative", "scale": {"domain": [0,10]}, "axis": null}, "x2": {"datum": 3.25}, "y": {"field": "s", "type": "nominal", "scale": {"type": "point", "padding": 0, "domain": ["LPS","GM-CSF","IL-6","IL-13","IL-1β","IL-4","TNF-α","MCP-1","MIP-1α"], "range": [0,141]}, "axis": null}}},
  {"transform": [{"filter": "datum.s !== 'LPS'"}], "mark": {"type": "rule", "strokeWidth": 1.5},
   "encoding": {"x": {"datum": 0.58, "axis": null}, "x2": {"datum": 3.25}, "y": {"field": "s", "type": "nominal", "axis": null}, "color": {"field": "s", "type": "nominal", "scale": {"domain": ["GM-CSF","IL-6","IL-13","IL-1β","IL-4","TNF-α","MCP-1","MIP-1α"], "range": ["#f26a6a","#f04848","#ff1a1a","#f03a3a","#e81010","#f03030","#ff2a2a","#ee1111"]}, "legend": null}}},
  {"transform": [{"filter": "datum.s !== 'LPS'"}], "mark": {"type": "point", "filled": true, "opacity": 1, "strokeWidth": 1},
   "encoding": {"x": {"datum": 1.75, "axis": null}, "y": {"field": "s", "type": "nominal", "axis": null},
    "fill": {"field": "s", "type": "nominal", "scale": {"domain": ["GM-CSF","IL-6","IL-13","IL-1β","IL-4","TNF-α","MCP-1","MIP-1α"], "range": ["#c8a0a0","#b0b0b0","#ff1a1a","#9a9a9a","#400000","#f03030","#ff3030","#200000"]}, "legend": null},
    "shape": {"field": "s", "type": "nominal", "scale": {"domain": ["GM-CSF","IL-6","IL-13","IL-1β","IL-4","TNF-α","MCP-1","MIP-1α"], "range": ["circle","square","circle","cross","cross","M-0.8,-0.8L0.8,0.8M-0.8,0.8L0.8,-0.8","circle","triangle-up"]}, "legend": null},
    "stroke": {"condition": [{"test": "datum.s === 'TNF-α'", "value": "#c02020"}, {"test": "datum.s === 'MIP-1α'", "value": "#ff0000"}], "value": "transparent"},
    "size": {"condition": {"test": "datum.s === 'IL-13'", "value": 0}, "value": 25}}},
  {"mark": {"type": "text", "align": "left", "baseline": "middle", "fontSize": 10.5, "color": "#333"},
   "encoding": {"x": {"datum": 3.6, "axis": null}, "y": {"field": "s", "type": "nominal", "axis": null}, "text": {"field": "s"}}}
 ]}
]}
]
}
